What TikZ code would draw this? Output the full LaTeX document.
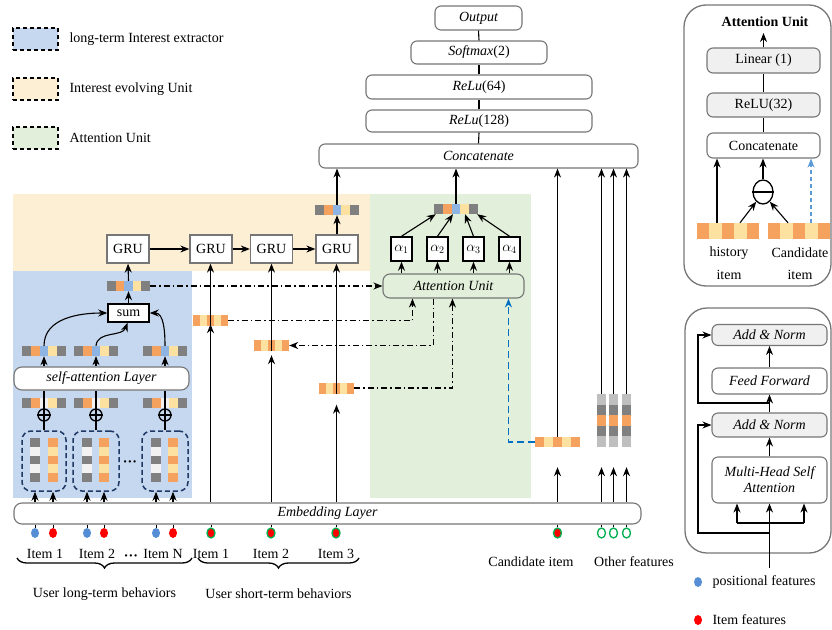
\documentclass[tikz,border=0pt]{standalone}
\usepackage{fontspec}
\setmainfont{Liberation Serif}
\usetikzlibrary{arrows.meta,shapes.geometric,decorations.pathreplacing,calc}

\definecolor{bgblue}{RGB}{197,216,240}
\definecolor{bgorange}{RGB}{253,239,212}
\definecolor{bggreen}{RGB}{226,239,218}
\definecolor{cO}{RGB}{244,162,94}
\definecolor{cY}{RGB}{252,225,160}
\definecolor{cG}{RGB}{128,128,128}
\definecolor{cB}{RGB}{141,180,226}
\definecolor{cW}{RGB}{242,242,242}
\definecolor{cL}{RGB}{191,191,191}
\definecolor{dotblue}{RGB}{85,142,213}
\definecolor{dotgreen}{RGB}{0,176,80}
\definecolor{navy}{RGB}{31,56,100}
\definecolor{lineblue}{RGB}{0,112,192}
\definecolor{lineblueb}{RGB}{91,155,213}
\definecolor{boxgray}{RGB}{118,118,118}
\definecolor{fillgray}{RGB}{240,240,240}

\newcommand{\myhstrip}[6]{%
  \foreach \cc [count=\ii] in {#6} {\fill[\cc] ({#2+(\ii-3.5)*#4},{#3-#5/2}) rectangle ++(#4,#5);}
  \node[inner sep=0pt, minimum width={5*#4pt}, minimum height={#5pt}] (#1) at (#2,#3) {};
}
\newcommand{\myvstrip}[6]{%
  \foreach \cc [count=\ii] in {#6} {\fill[\cc] ({#2-#4/2},{#3+(\ii-3.5)*#5}) rectangle ++(#4,#5);}
  \node[inner sep=0pt, minimum width={#4pt}, minimum height={5*#5pt}] (#1) at (#2,#3) {};
}

\tikzset{
  arr/.style={-{Stealth[length=9pt,width=7pt]}, line width=1.1pt},
  ln/.style={line width=1.1pt},
  itf/.style={font=\fontsize{14}{16}\selectfont\itshape},
  rbox/.style={draw=boxgray, line width=1.1pt, rounded corners=6pt, fill=white, inner sep=0pt},
  grubox/.style={draw=boxgray, line width=1.3pt, fill=white, minimum width=42pt, minimum height=28pt, inner sep=0pt},
  kbox/.style={draw=black, line width=1.5pt, fill=white, inner sep=0pt},
  dd/.style={line width=1.2pt, dash pattern=on 6pt off 3pt on 1.5pt off 3pt},
  bdash/.style={draw=lineblue, dash pattern=on 7pt off 4pt},
  legbox/.style={draw=black, line width=1.5pt, dash pattern=on 4pt off 3pt, minimum width=45pt, minimum height=22pt, inner sep=0pt},
  navybox/.style={draw=navy, line width=1.5pt, dash pattern=on 5pt off 3pt, rounded corners=9pt, minimum height=60pt, inner sep=0pt},
  dot/.style={ellipse, minimum width=8pt, minimum height=10pt, inner sep=0pt},
  gdot/.style={ellipse, draw=dotgreen, line width=1.3pt, fill=red, minimum width=8pt, minimum height=10pt, inner sep=0pt},
  hdot/.style={ellipse, draw=dotgreen, line width=1.3pt, fill=white, minimum width=8pt, minimum height=10pt, inner sep=0pt},
  oplus/.style={circle, draw, line width=1.3pt, minimum size=12pt, inner sep=0pt},
  panel/.style={draw=boxgray, line width=1.3pt, rounded corners=22pt, inner sep=0pt},
  brc/.style={decorate, decoration={brace, mirror, amplitude=10pt}, line width=1.3pt},
}

\begin{document}
\begin{tikzpicture}[x=1pt, y=-1pt, font=\fontsize{14}{16}\selectfont]
\useasboundingbox (0,0) rectangle (832,629);

% ---------- backgrounds
\fill[bgorange] (13,194) rectangle (370,271);
\fill[bgblue] (13,271) rectangle (192,498);
\fill[bggreen] (370,194) rectangle (531,498);

% ---------- legend
\node[legbox, fill=bgblue] (lg1) at (35.5,39) {};
\node[anchor=west] (lt1) at (66,39) {long-term Interest extractor};
\node[legbox, fill=bgorange] (lg2) at (35.5,89) {};
\node[anchor=west] (lt2) at (66,89) {Interest evolving Unit};
\node[legbox, fill=bggreen] (lg3) at (35.5,138) {};
\node[anchor=west] (lt3) at (66,138) {Attention Unit};

% ---------- embedding layer and inputs
\node[rbox, rounded corners=8pt, minimum width=627pt, minimum height=21pt, itf] (emb) at (327.5,513.5) {Embedding Layer};

\foreach \n/\x/\c in {b1/35/dotblue, r1/53/red, b2/87/dotblue, r2/104/red, bN/156/dotblue, rN/173/red}{
  \node[dot, fill=\c] (\n) at (\x,533) {};
  \draw[line width=0.8pt] (emb.south -| \n.north) -- (\n.north);
}
\foreach \n/\x in {s1/211, s2/271, s3/336, cd/557.5}{
  \node[gdot] (\n) at (\x,533) {};
  \draw[line width=0.8pt] (emb.south -| \n.north) -- (\n.north);
}
\foreach \n/\x in {o1/601.5, o2/613.5, o3/626.5}{
  \node[hdot] (\n) at (\x,533) {};
  \draw[line width=0.8pt] (emb.south -| \n.north) -- (\n.north);
}

\node (it1) at (45,554) {Item 1};
\node (it2) at (97,554) {Item 2};
\node (itd) at (131,558) {\textbf{···}};
\node (itN) at (163,554) {Item N};
\node (is1) at (211,554) {Item 1};
\node (is2) at (271,554) {Item 2};
\node (is3) at (336,554) {Item 3};
\node (candl) at (531,562) {Candidate item};
\node (othl) at (634,562) {Other features};

\coordinate (bl1) at (17,558); \coordinate (bl2) at (192,558);
\coordinate (br1) at (198,558); \coordinate (br2) at (359,558);
\draw[brc] (bl1) -- (bl2);
\draw[brc] (br1) -- (br2);
\node (ulong) at (104.5,594) {User long-term behaviors};
\node (ushort) at (278.5,594) {User short-term behaviors};

% ---------- long-term interest extractor
\node[navybox, minimum width=44pt] (eb1) at (44,461) {};
\node[navybox, minimum width=46pt] (eb2) at (96,461) {};
\node[navybox, minimum width=46pt] (eb3) at (165,461) {};
\node (ebd) at (130,464) {\textbf{···}};
\myvstrip{g1}{35}{460}{10}{8.8}{cG,cW,cG,cW,cG}
\myvstrip{y1}{53}{460}{10}{8.8}{cO,cY,cO,cY,cO}
\myvstrip{g2}{87}{460}{10}{8.8}{cG,cW,cG,cW,cG}
\myvstrip{y2}{104}{460}{10}{8.8}{cO,cY,cO,cY,cO}
\myvstrip{g3}{156}{460}{10}{8.8}{cG,cW,cG,cW,cG}
\myvstrip{y3}{173}{460}{10}{8.8}{cO,cY,cO,cY,cO}
\foreach \n/\b in {g1/eb1, y1/eb1, g2/eb2, y2/eb2, g3/eb3, y3/eb3}{
  \draw[arr] (emb.north -| \n.south) -- (\b.south -| \n.south);
}

\node[rbox, rounded corners=8pt, minimum width=175pt, minimum height=23pt, itf] (sal) at (101.5,378.5) {self-attention Layer};

\myhstrip{p1}{44}{403}{8.8}{10}{cG,cO,cW,cY,cG}
\myhstrip{p2}{96}{403}{8.8}{10}{cG,cO,cW,cY,cG}
\myhstrip{p3}{165}{403}{8.8}{10}{cG,cO,cW,cY,cG}
\node[oplus] (op1) at (44,415) {};
\node[oplus] (op2) at (96,415) {};
\node[oplus] (op3) at (165,415) {};
\foreach \o/\b in {op1/eb1, op2/eb2, op3/eb3}{
  \draw[line width=1.3pt] (\o.west) -- (\o.east);
  \draw[ln] (\b.north) -- (\o.north);
  \draw[ln] (\o.north) -- (sal.south -| \o.north);
}

\myhstrip{q1}{44}{351}{8.8}{10}{cG,cO,cB,cY,cG}
\myhstrip{q2}{96}{351}{8.8}{10}{cG,cO,cB,cY,cG}
\myhstrip{q3}{165}{351}{8.8}{10}{cG,cO,cB,cY,cG}
\foreach \q in {q1,q2,q3}{\draw[arr] (sal.north -| \q.south) -- (\q.south);}

\node[kbox, minimum width=41pt, minimum height=18pt] (sum) at (128.5,313) {sum};
\draw[arr] (q1.north) to[out=90, in=180] (sum.west);
\draw[arr] (q2.north) to[out=85, in=-110] ([xshift=-1pt]sum.south);
\draw[arr] (q3.north) to[out=90, in=0] (sum.east);

\myhstrip{gs}{128.5}{286}{8.6}{10}{cG,cO,cB,cY,cG}
\draw[arr] (sum.north) -- (gs.south);

% ---------- interest evolving
\node[grubox] (gru1) at (128,249) {GRU};
\node[grubox] (gru2) at (211,249) {GRU};
\node[grubox] (gru3) at (271.5,249) {GRU};
\node[grubox] (gru4) at (337,249) {GRU};
\draw[arr] (gs.north) -- (gru1.south);
\draw[arr] (gru1.east) -- (gru2.west);
\draw[arr] (gru2.east) -- (gru3.west);
\draw[arr] (gru3.east) -- (gru4.west);

\myhstrip{sA}{210.5}{320.5}{7}{11}{cO,cY,cO,cY,cO}
\myhstrip{sB}{271.5}{345.5}{7}{11}{cO,cY,cO,cY,cO}
\myhstrip{sC}{336.5}{388}{7}{11}{cO,cY,cO,cY,cO}
\draw[arr, shorten >=-2pt] (emb.north -| sA.south) -- (sA.south);
\draw[arr, shorten >=4pt] (emb.north -| sB.south) -- (sB.south);
\draw[arr, shorten >=11pt] (emb.north -| sC.south) -- (sC.south);
\draw[arr] (sA.south) -- (gru2.south -| sA.south);
\draw[arr] (sB.south) -- (gru3.south -| sB.south);
\draw[arr] (sC.south) -- (gru4.south -| sC.south);

\myhstrip{g4s}{337}{210}{8.8}{10}{cG,cO,cB,cY,cG}
\draw[arr] (gru4.north) -- (g4s.south);

% ---------- attention
\node[rbox, fill=bggreen, rounded corners=7pt, minimum width=141pt, minimum height=24pt, itf] (att) at (453.5,286) {Attention Unit};
\coordinate (attA) at ($(att.south west)+(30,0)$);
\coordinate (attB) at ($(att.south west)+(51,0)$);
\coordinate (attC) at ($(att.south west)+(70,0)$);
\coordinate (attD) at ($(att.south west)+(126,0)$);
\draw[arr, dd] (gs.east) -- (att.west);
\draw[arr, dd] (sA.east) -| (attA);
\draw[arr, dd] (attB) |- (sB.east);
\draw[arr, dd] (sC.east) -| (attC);

\node[kbox, minimum width=21pt, minimum height=24pt] (a1) at (401.5,249) {$\alpha_1$};
\node[kbox, minimum width=21pt, minimum height=24pt] (a2) at (437.5,249) {$\alpha_2$};
\node[kbox, minimum width=21pt, minimum height=24pt] (a3) at (473.5,249) {$\alpha_3$};
\node[kbox, minimum width=21pt, minimum height=24pt] (a4) at (509.5,249) {$\alpha_4$};
\foreach \a in {a1,a2,a3,a4}{\draw[arr] (att.north -| \a.south) -- (\a.south);}

\myhstrip{as}{456}{209}{8.8}{10}{cG,cO,cB,cY,cG}
\draw[arr] (a1.north) -- ($(as.south west)+(2,0)$);
\draw[arr] (a2.north) -- ($(as.south)+(-3,0)$);
\draw[arr] (a3.north) -- ($(as.south)+(9,0)$);
\draw[arr] (a4.north) -- ($(as.south east)+(-1,0)$);

% ---------- candidate & other features
\myhstrip{cand}{557.5}{442}{9}{10}{cO,cY,cO,cY,cO}
\draw[arr, bdash, line width=1.1pt] (cand.west) -| (attD);
\draw[arr, shorten >=20pt] (emb.north -| cand.south) -- (cand.south);
\myvstrip{of1}{601.5}{420.5}{9}{10.6}{cL,cG,cO,cG,cL}
\myvstrip{of2}{613.5}{420.5}{9}{10.6}{cL,cG,cO,cG,cL}
\myvstrip{of3}{626.5}{420.5}{9}{10.6}{cL,cG,cO,cG,cL}
\foreach \f in {of1,of2,of3}{\draw[arr, shorten >=20pt] (emb.north -| \f.south) -- (\f.south);}

% ---------- top MLP stack
\node[rbox, minimum width=319pt, minimum height=24pt, itf] (concat) at (478.5,156) {Concatenate};
\node[rbox, minimum width=226pt, minimum height=22pt] (r128) at (479,121) {\textit{ReLu}(128)};
\node[rbox, minimum width=226pt, minimum height=24pt] (r64) at (479,87) {\textit{ReLu}(64)};
\node[rbox, minimum width=136pt, minimum height=23pt] (soft) at (479,52.5) {\textit{Softmax}(2)};
\node[rbox, minimum width=87pt, minimum height=24pt, itf] (outp) at (478.5,18) {Output};
\draw[ln] (concat.north) -- (r128.south);
\draw[ln] (r128.north) -- (r64.south);
\draw[ln] (r64.north) -- (soft.south);
\draw[ln] (soft.north) -- (outp.south);
\foreach \s in {g4s, as, cand, of1, of2, of3}{\draw[arr] (\s.north) -- (concat.south -| \s.north);}

% ---------- right panel: attention unit
\node[panel, minimum width=147pt, minimum height=281pt] (pan1) at (757.5,145.5) {};
\node[font=\fontsize{14}{16}\selectfont\bfseries] (autitle) at (765,22) {Attention Unit};
\node[rbox, fill=fillgray, minimum width=113pt, minimum height=25pt] (lin) at (763.5,60.5) {Linear (1)};
\node[rbox, fill=fillgray, minimum width=113pt, minimum height=24pt] (relu) at (763.5,105) {ReLU(32)};
\node[rbox, minimum width=113pt, minimum height=25pt] (c2) at (763.5,145.5) {Concatenate};
\coordinate (autop) at (763.5,33);
\draw[arr] (lin.north) -- (autop);
\draw[ln] (relu.north) -- (lin.south);
\draw[ln] (c2.north) -- (relu.south);
\node[ellipse, draw, line width=1.3pt, minimum width=20pt, minimum height=24pt, inner sep=0pt] (minus) at (763,192) {};
\draw[line width=1.3pt] (minus.west) -- (minus.east);
\draw[arr] (minus.north) -- (c2.south -| minus.north);
\myhstrip{hs}{728}{231}{12.4}{16}{cO,cY,cO,cY,cO}
\myhstrip{cs}{799}{231}{12.4}{16}{cO,cY,cO,cY,cO}
\coordinate (hL) at ($(hs.north)+(-11,0)$);
\coordinate (hR) at ($(hs.north)+(12,0)$);
\coordinate (cL) at ($(cs.north)+(-11,0)$);
\coordinate (cR) at ($(cs.north)+(12,0)$);
\draw[arr] (hL) -- (c2.south -| hL);
\draw[arr] (hR) -- (minus.-125);
\draw[arr] (cL) -- (minus.-55);
\draw[arr, draw=lineblueb, dash pattern=on 4pt off 3pt, line width=1.1pt] (cR) -- (c2.south -| cR);
\node (hist1) at (729,253) {history};
\node (hist2) at (729,275) {item};
\node (cnd1) at (800,253) {Candidate};
\node (cnd2) at (800,275) {item};

% ---------- right panel: self-attention block
\node[panel, minimum width=146pt, minimum height=245pt] (pan2) at (758,430.5) {};
\node[rbox, fill=fillgray, minimum width=115pt, minimum height=21pt, itf] (an1) at (769.5,335) {Add \& Norm};
\node[rbox, minimum width=115pt, minimum height=26pt, itf] (ff) at (769.5,381) {Feed Forward};
\node[rbox, fill=fillgray, minimum width=115pt, minimum height=24pt, itf] (an2) at (769.5,425) {Add \& Norm};
\node[rbox, minimum width=115pt, minimum height=46pt, align=center, itf] (mh) at (769.5,480) {Multi-Head Self\\Attention};
\draw[arr] (ff.north) -- (an1.south);
\draw[arr] (an2.north) -- (ff.south);
\draw[arr] (mh.north) -- (an2.south);
\coordinate (in0) at (769.5,568);
\coordinate (r1) at (769.5,403);
\coordinate (l1) at (698,403);
\coordinate (r2) at (769.5,533);
\coordinate (l2) at (698,533);
\draw[arr] (in0) -- (mh.south);
\draw[arr] (r1) -- (l1) |- (an1.west);
\draw[arr] (r2) -- (l2) |- (an2.west);
\coordinate (sp1) at (737,523);
\coordinate (sp2) at (804,523);
\draw[ln] (sp1) -- (sp2);
\draw[arr] (sp1) -- (mh.south -| sp1);
\draw[arr] (sp2) -- (mh.south -| sp2);

% ---------- bottom-right legend
\node[dot, fill=dotblue] (lgb) at (698,582) {};
\node[anchor=west] (lgbt) at (709,582) {positional features};
\node[dot, fill=red] (lgr) at (698,620) {};
\node[anchor=west] (lgrt) at (709,620) {Item features};
\end{tikzpicture}
\end{document}
